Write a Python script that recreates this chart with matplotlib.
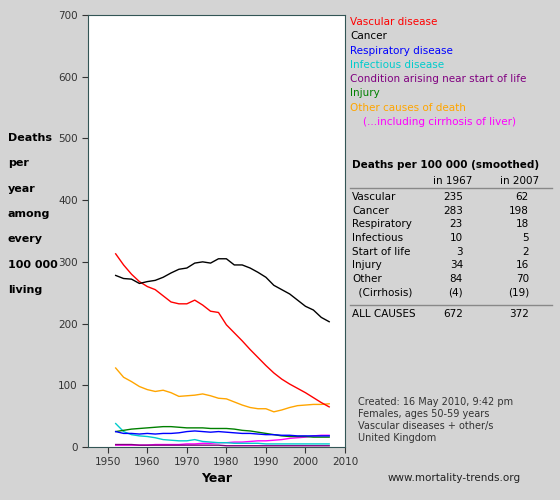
import matplotlib
matplotlib.use("Agg")
import matplotlib.pyplot as plt

years = list(range(1952, 2007, 2))
vascular = [313,295,280,268,260,255,245,235,232,232,238,230,220,218,198,185,172,158,145,132,120,110,102,95,88,80,72,65]
cancer = [278,273,272,265,268,270,275,282,288,290,298,300,298,305,305,295,295,290,283,275,262,255,248,238,228,222,210,203]
respiratory = [25,22,22,21,22,21,22,22,23,25,26,25,24,25,24,23,22,22,21,20,20,19,19,18,18,18,18,18]
infectious = [38,25,20,18,17,15,12,11,10,10,12,9,8,7,7,6,6,6,6,5,5,5,5,5,5,5,5,5]
startlife = [4,4,4,3,3,3,3,3,3,3,3,3,3,3,2,2,2,2,2,2,2,2,2,2,2,2,2,2]
injury = [25,27,29,30,31,32,33,33,32,31,31,31,30,30,30,29,27,26,24,22,20,18,17,17,17,16,16,16]
other = [128,113,106,98,93,90,92,88,82,83,84,86,83,79,78,73,68,64,62,62,57,60,64,67,68,69,69,70]
cirrhosis = [3,3,3,3,3,4,4,4,4,5,5,6,6,7,7,8,8,9,10,10,11,12,14,15,16,18,19,19]

legend_labels = ["Vascular disease","Cancer","Respiratory disease","Infectious disease",
                 "Condition arising near start of life","Injury","Other causes of death",
                 "    (...including cirrhosis of liver)"]
colors = ["#ff0000","#000000","#0000ff","#00cccc","#800080","#008000","#ffa500","#ff00ff"]
series = [vascular,cancer,respiratory,infectious,startlife,injury,other,cirrhosis]

row_labels = ["Vascular","Cancer","Respiratory","Infectious","Start of life","Injury","Other","  (Cirrhosis)"]
v1967 = ["235","283","23","10","3","34","84","(4)"]
v2007 = ["62","198","18","5","2","16","70","(19)"]

bg = "#d4d4d4"
fig = plt.figure(figsize=(5.6,5), dpi=100, facecolor=bg)
ax = fig.add_axes([88/560, 53/500, 257/560, 432/500])
ax.set_facecolor("white")
draw_order = [7,4,3,5,2,6,0,1]
for i in draw_order:
    ax.plot(years, series[i], color=colors[i], lw=1)
ax.set_xlim(1945, 2010)
ax.set_ylim(0, 700)
ax.set_xticks(range(1950, 2011, 10))
ax.set_yticks(range(0, 701, 100))
ax.tick_params(labelsize=7.5, colors="#333333", length=4)
for s in ax.spines.values():
    s.set_color("#335555")

def T(x, y, s, **kw):
    fig.text(x/560, 1 - y/500, s, fontsize=kw.pop("fs", 7.5), va="center", **kw)

for k, (lab, c) in enumerate(zip(legend_labels, colors)):
    T(350, 22 + k*14.3, lab, color=c)

T(352, 165, "Deaths per 100 000 (smoothed)", fontweight="bold")
T(453, 181, "in 1967", ha="center")
T(520, 181, "in 2007", ha="center")
fig.add_artist(plt.Line2D([350/560, 552/560], [1-188/500]*2, color="#888888", lw=1))
for k in range(8):
    y = 197 + k*13.7
    T(352, y, row_labels[k])
    T(463, y, v1967[k], ha="right")
    T(529, y, v2007[k], ha="right")
fig.add_artist(plt.Line2D([350/560, 552/560], [1-305/500]*2, color="#888888", lw=1))
T(352, 314, "ALL CAUSES")
T(463, 314, "672", ha="right")
T(529, 314, "372", ha="right")

notes = ["Created: 16 May 2010, 9:42 pm","Females, ages 50-59 years","Vascular diseases + other/s","United Kingdom"]
for k, n in enumerate(notes):
    T(358, 402 + k*12, n, fs=7, color="#333333")
T(388, 478, "www.mortality-trends.org", fs=7.5, color="#222222")
T(217, 478, "Year", fontweight="bold", fs=9, ha="center")
ylab = ["Deaths","per","year","among","every","100 000","living"]
for k, w in enumerate(ylab):
    T(8, 138 + k*25.3, w, fontweight="bold", fs=8)

fig.savefig("out.png", dpi=100, facecolor=bg)
